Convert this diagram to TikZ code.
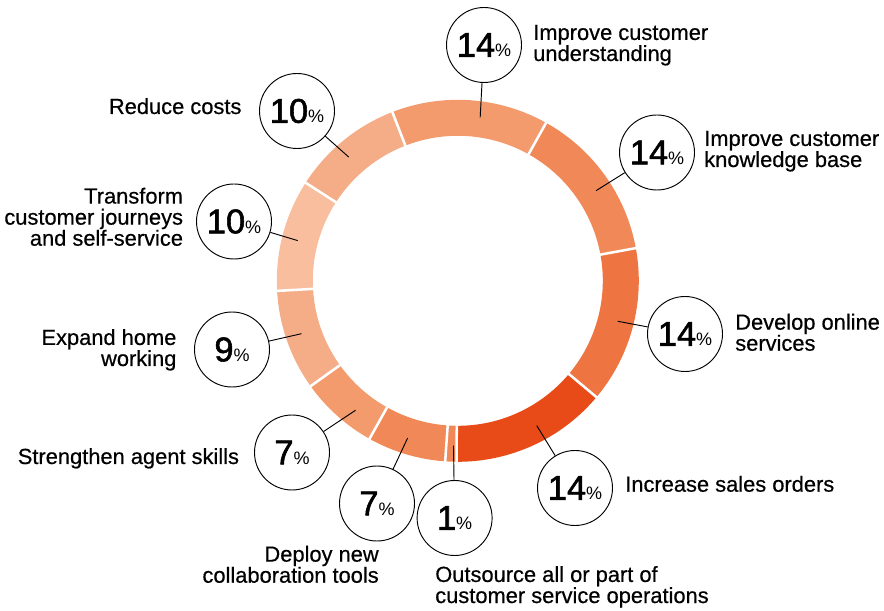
\documentclass[tikz,border=0pt]{standalone}
\usepackage{fontspec}
\setmainfont{Liberation Sans}[BoldFont=Liberation Sans, BoldFeatures={FakeBold=0.5}]
\newfontfamily\numfont{Liberation Sans}[BoldFont=Liberation Sans, BoldFeatures={FakeBold=1.6}]
\usepackage{tikz}
\usetikzlibrary{calc}
\definecolor{segunder}{HTML}{F39B6D}
\definecolor{segknow}{HTML}{F18858}
\definecolor{segonline}{HTML}{EE7441}
\definecolor{segsales}{HTML}{E84B18}
\definecolor{seghome}{HTML}{F5AD87}
\definecolor{segjourney}{HTML}{F8BE9E}
\def\ringarc[#1](#2:#3)% Syntax: [fill colour] (start angle:end angle)
{ \fill[fill=#1] ($(ctr)+(#2:181)$) arc (#2:#3:181) -- ($(ctr)+(#3:145)$) arc (#3:#2:145) -- cycle; }
\newcommand{\pctval}[1]{{\numfont\bfseries\fontsize{25.8}{26}\selectfont #1}{\numfont\fontsize{13.5}{14}\selectfont\%}}
\tikzset{
	pct circle/.style={draw, circle, line width=0.7pt, minimum size=56.25pt, inner sep=0pt},
	label text/.style={font=\bfseries\fontsize{16.4}{15.8}\selectfont, inner sep=0pt},
	leader/.style={line width=0.7pt},
}

\begin{document}
\begin{tikzpicture}[x=0.75pt, y=0.75pt]
	\useasboundingbox (0,0) rectangle (884,610);
	\coordinate (ctr) at (457.8,329.2);
	% ring segments, clockwise from the top
	\foreach \a/\b/\c in {111.2/60.8/segunder, 60.8/10.4/segknow, 10.4/-40/segonline, -40/-90.4/segsales,
		-90.4/-94/segknow, -94/-119.2/segknow, -119.2/-144.4/segunder, -144.4/-176.8/seghome,
		-176.8/-212.8/segjourney, -212.8/-248.8/seghome}
		{\ringarc[\c](\a:\b)}
	\foreach \a in {111.2,60.8,10.4,-40,-90.4,-94,-119.2,-144.4,-176.8,-212.8}
		\draw[white, line width=1.9pt] ($(ctr)+(\a:140)$) -- ($(ctr)+(\a:186)$);
	% percentage circles
	\foreach \n/\p/\v in {under/{484,565}/14, know/{657,457.5}/14, online/{685,276}/14, sales/{575,122}/14,
		outsrc/{454.6,92}/1, deploy/{377,106.5}/7, agent/{292,157.5}/7, home/{232,260.5}/9,
		journey/{234,388.5}/10, costs/{297,499}/10}
		\node[pct circle] (\n) at (\p) {\pctval{\v}};
	\foreach \n/\a in {under/82.2, know/33.1, online/-14.2, sales/-61.4, outsrc/-91.5, deploy/-107.7,
		agent/-128.3, home/-161.3, journey/165.9, costs/131.4}
		{\coordinate (\n-in) at ($(ctr)+(\a:165)$);
		\draw[leader] (\n) -- (\n-in);}
	% labels (base = last line)
	\node[label text, anchor=base west, align=left] (under-txt) at (533,549) {Improve customer\\understanding};
	\node[label text, anchor=base west, align=left] (know-txt) at (704,443) {Improve customer\\knowledge base};
	\node[label text, anchor=base west, align=left] (online-txt) at (735,259.3) {Develop online\\services};
	\node[label text, anchor=base west, align=left] (sales-txt) at (625,118.3) {Increase sales orders};
	\node[label text, anchor=base west, align=left] (outsrc-txt) at (435,7) {Outsource all or part of\\customer service operations};
	\node[label text, anchor=base east, align=right] (deploy-txt) at (379,27.3) {Deploy new\\collaboration tools};
	\node[label text, anchor=base east, align=right] (agent-txt) at (239.3,146) {Strengthen agent skills};
	\node[label text, anchor=base east, align=right] (home-txt) at (176.7,244) {Expand home\\working};
	\node[label text, anchor=base east, align=right] (journey-txt) at (183.3,364.3) {Transform\\customer journeys\\and self-service};
	\node[label text, anchor=base east, align=right] (costs-txt) at (241.7,496) {Reduce costs};
\end{tikzpicture}
\end{document}
